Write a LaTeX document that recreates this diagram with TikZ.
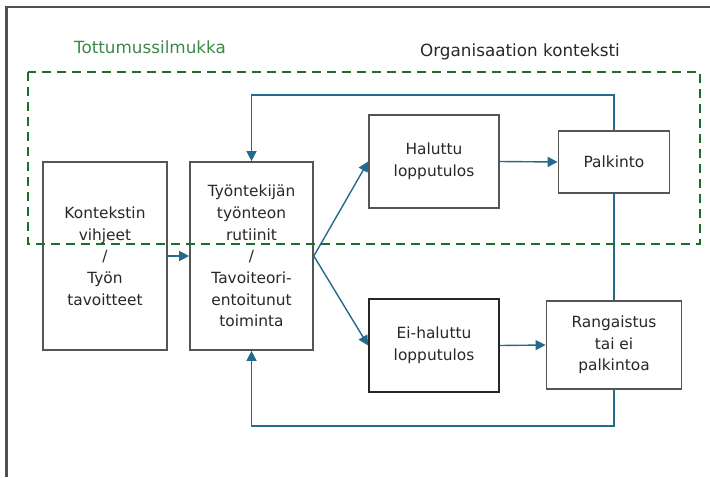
\documentclass[tikz,border=0pt]{standalone}
\usepackage{fontspec}
\setmainfont{DejaVu Sans}
\usetikzlibrary{arrows.meta}
\definecolor{arr}{RGB}{36,106,140}
\definecolor{dgreen}{RGB}{28,110,40}
\definecolor{lgreen}{RGB}{58,138,70}
\definecolor{txt}{RGB}{40,40,40}
\definecolor{boxc}{RGB}{85,85,85}
\definecolor{framec}{RGB}{80,80,80}
\begin{document}
\begin{tikzpicture}[x=1pt,y=-1pt,
  box/.style={draw=boxc, line width=1.7pt, fill=white, align=center, text=txt,
    font=\fontsize{15.4}{21.7}\selectfont, inner sep=0pt},
  conn/.style={draw=arr, line width=1.4pt, -{Triangle[length=10pt,width=10pt]}},
  plain/.style={draw=arr, line width=1.4pt},
  lab/.style={font=\fontsize{16.8}{20}\selectfont, inner sep=0pt}]
\useasboundingbox (0,0) rectangle (710,477);
\draw[draw=framec, line width=2.5pt] (6.5,477) -- (6.5,7) -- (710,7);

\node[lab, text=lgreen] (lab1) at (150,47) {Tottumussilmukka};
\node[lab, text=txt] (lab2) at (520,52) {Organisaation konteksti};

\node[box, minimum width=124pt, minimum height=188pt] (b1) at (105,256)
  {Kontekstin\\vihjeet\\/\\Työn\\tavoitteet};
\node[box, minimum width=123pt, minimum height=188pt] (b2) at (251.5,256)
  {Työntekijän\\työnteon\\rutiinit\\/\\Tavoiteori-\\entoitunut\\toiminta};
\node[box, minimum width=130pt, minimum height=93pt] (b3) at (434,161.5)
  {Haluttu\\lopputulos};
\node[box, minimum width=111pt, minimum height=62pt] (b4) at (614,162)
  {Palkinto};
\node[box, draw=black!85, minimum width=130pt, minimum height=93pt] (b5) at (434,345.5)
  {Ei-haluttu\\lopputulos};
\node[box, minimum width=135pt, minimum height=88pt] (b6) at (614,345)
  {Rangaistus\\tai ei\\palkintoa};

\coordinate (top) at (0,95);
\coordinate (bot) at (0,426);

\draw[conn] (b1.east) -- (b2.west);
\draw[conn] (b2.east) -- (b3.west);
\draw[conn] (b2.east) -- (b5.west);
\draw[conn] (b3.east) -- (b4.west);
\draw[conn] (b5.east) -- (b6.west);
\draw[plain] (b4.south) -- (b6.north);
\draw[conn] (b4.north) -- (b4.north |- top) -| (b2.north);
\draw[conn] (b6.south) -- (b6.south |- bot) -| (b2.south);

\draw[draw=dgreen, line width=2.6pt, dash pattern=on 9pt off 6pt] (28,72) rectangle (700,244);
\end{tikzpicture}
\end{document}
